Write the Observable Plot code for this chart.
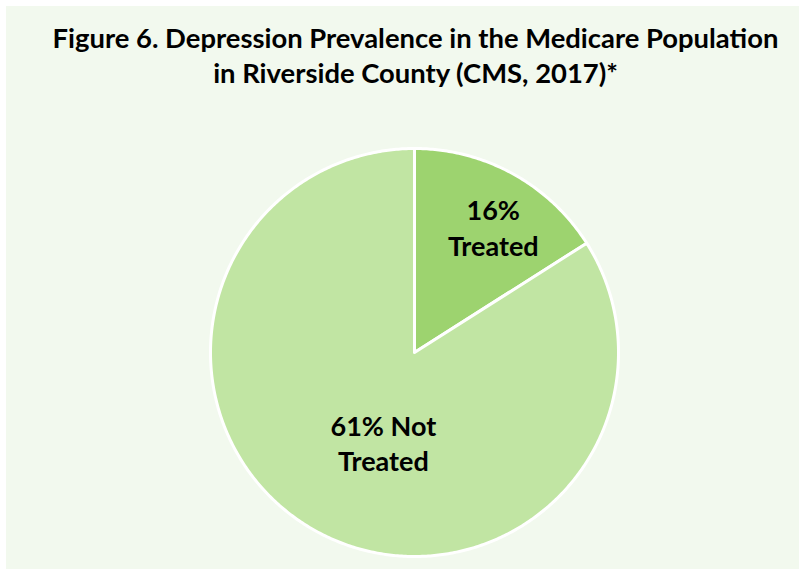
<!DOCTYPE html>
<html>
<head>
<meta charset="utf-8">
<script src="https://cdn.jsdelivr.net/npm/d3@7"></script>
<script src="https://cdn.jsdelivr.net/npm/@observablehq/plot@0.6"></script>
<style>
  html, body { margin: 0; padding: 0; background: #ffffff; }
  #wrap { position: relative; width: 799px; height: 569px; overflow: hidden; background: #ffffff; }
  #panel { position: absolute; left: 6px; top: 6px; right: 0; bottom: 0; background: #F2F9EE; }
  #title { position: absolute; left: 32px; right: 0; top: 20px; text-align: center;
           font-family: Lato, "Open Sans", sans-serif; font-weight: bold; font-size: 27.4px;
           line-height: 35px; color: #000; }
  #chart { position: absolute; left: 0; top: 0; }
</style>
</head>
<body>
<div id="wrap">
  <div id="panel"></div>
  <div id="chart"></div>
  <div id="title">Figure 6. Depression Prevalence in the Medicare Population<br>in Riverside County (CMS, 2017)*</div>
</div>
<script>
// Data
const categories = ["Treated", "Not Treated"];
const sliceValues = [16, 84];           // slice sizes as drawn
const labelLines = [["16%", "Treated"], ["61% Not", "Treated"]];
const sliceColors = ["#9DD36F", "#C1E5A3"];

// Build pie geometry with d3.pie (start at 12 o'clock, clockwise)
const pie = d3.pie().sort(null).value(d => d.value)(
  categories.map((c, i) => ({category: c, value: sliceValues[i]}))
);
const pts = [];
pie.forEach(a => {
  pts.push({category: a.data.category, x: 0, y: 0});
  const n = Math.max(2, Math.ceil((a.endAngle - a.startAngle) / 0.01));
  for (let k = 0; k <= n; k++) {
    const t = a.startAngle + (a.endAngle - a.startAngle) * k / n;
    pts.push({category: a.data.category, x: Math.sin(t), y: Math.cos(t)});
  }
  pts.push({category: a.data.category, x: 0, y: 0});
});

// Label positions along each slice's mid-angle
const labelRadius = [0.72, 0.5];
const labelDx = [8, 18];
const labelDy = [3, 0];
const labels = pie.map((a, i) => {
  const mid = (a.startAngle + a.endAngle) / 2;
  return {text: labelLines[i].join("\n"), x: Math.sin(mid) * labelRadius[i], y: Math.cos(mid) * labelRadius[i]};
});

const cx = 414, cy = 352, R = 204;
const chart = Plot.plot({
  width: 799,
  height: 569,
  margin: 0,
  style: {background: "transparent", overflow: "visible"},
  x: {type: "linear", domain: [-1, 1], range: [cx - R, cx + R], axis: null},
  y: {type: "linear", domain: [-1, 1], range: [cy + R, cy - R], axis: null},
  color: {domain: categories, range: sliceColors},
  marks: [
    Plot.line(pts, {x: "x", y: "y", z: "category", fill: "category", stroke: "#ffffff",
                    strokeWidth: 3, strokeLinejoin: "round", curve: "linear"}),
    ...labels.map((l, i) => Plot.text([l], {x: "x", y: "y", text: "text", dx: labelDx[i], dy: labelDy[i],
                       fontSize: 27, fontWeight: "bold",
                       fontFamily: "Lato, 'Open Sans', sans-serif", fill: "#000", lineHeight: 1.3}))
  ]
});
document.getElementById("chart").appendChild(chart);
</script>
</body>
</html>
